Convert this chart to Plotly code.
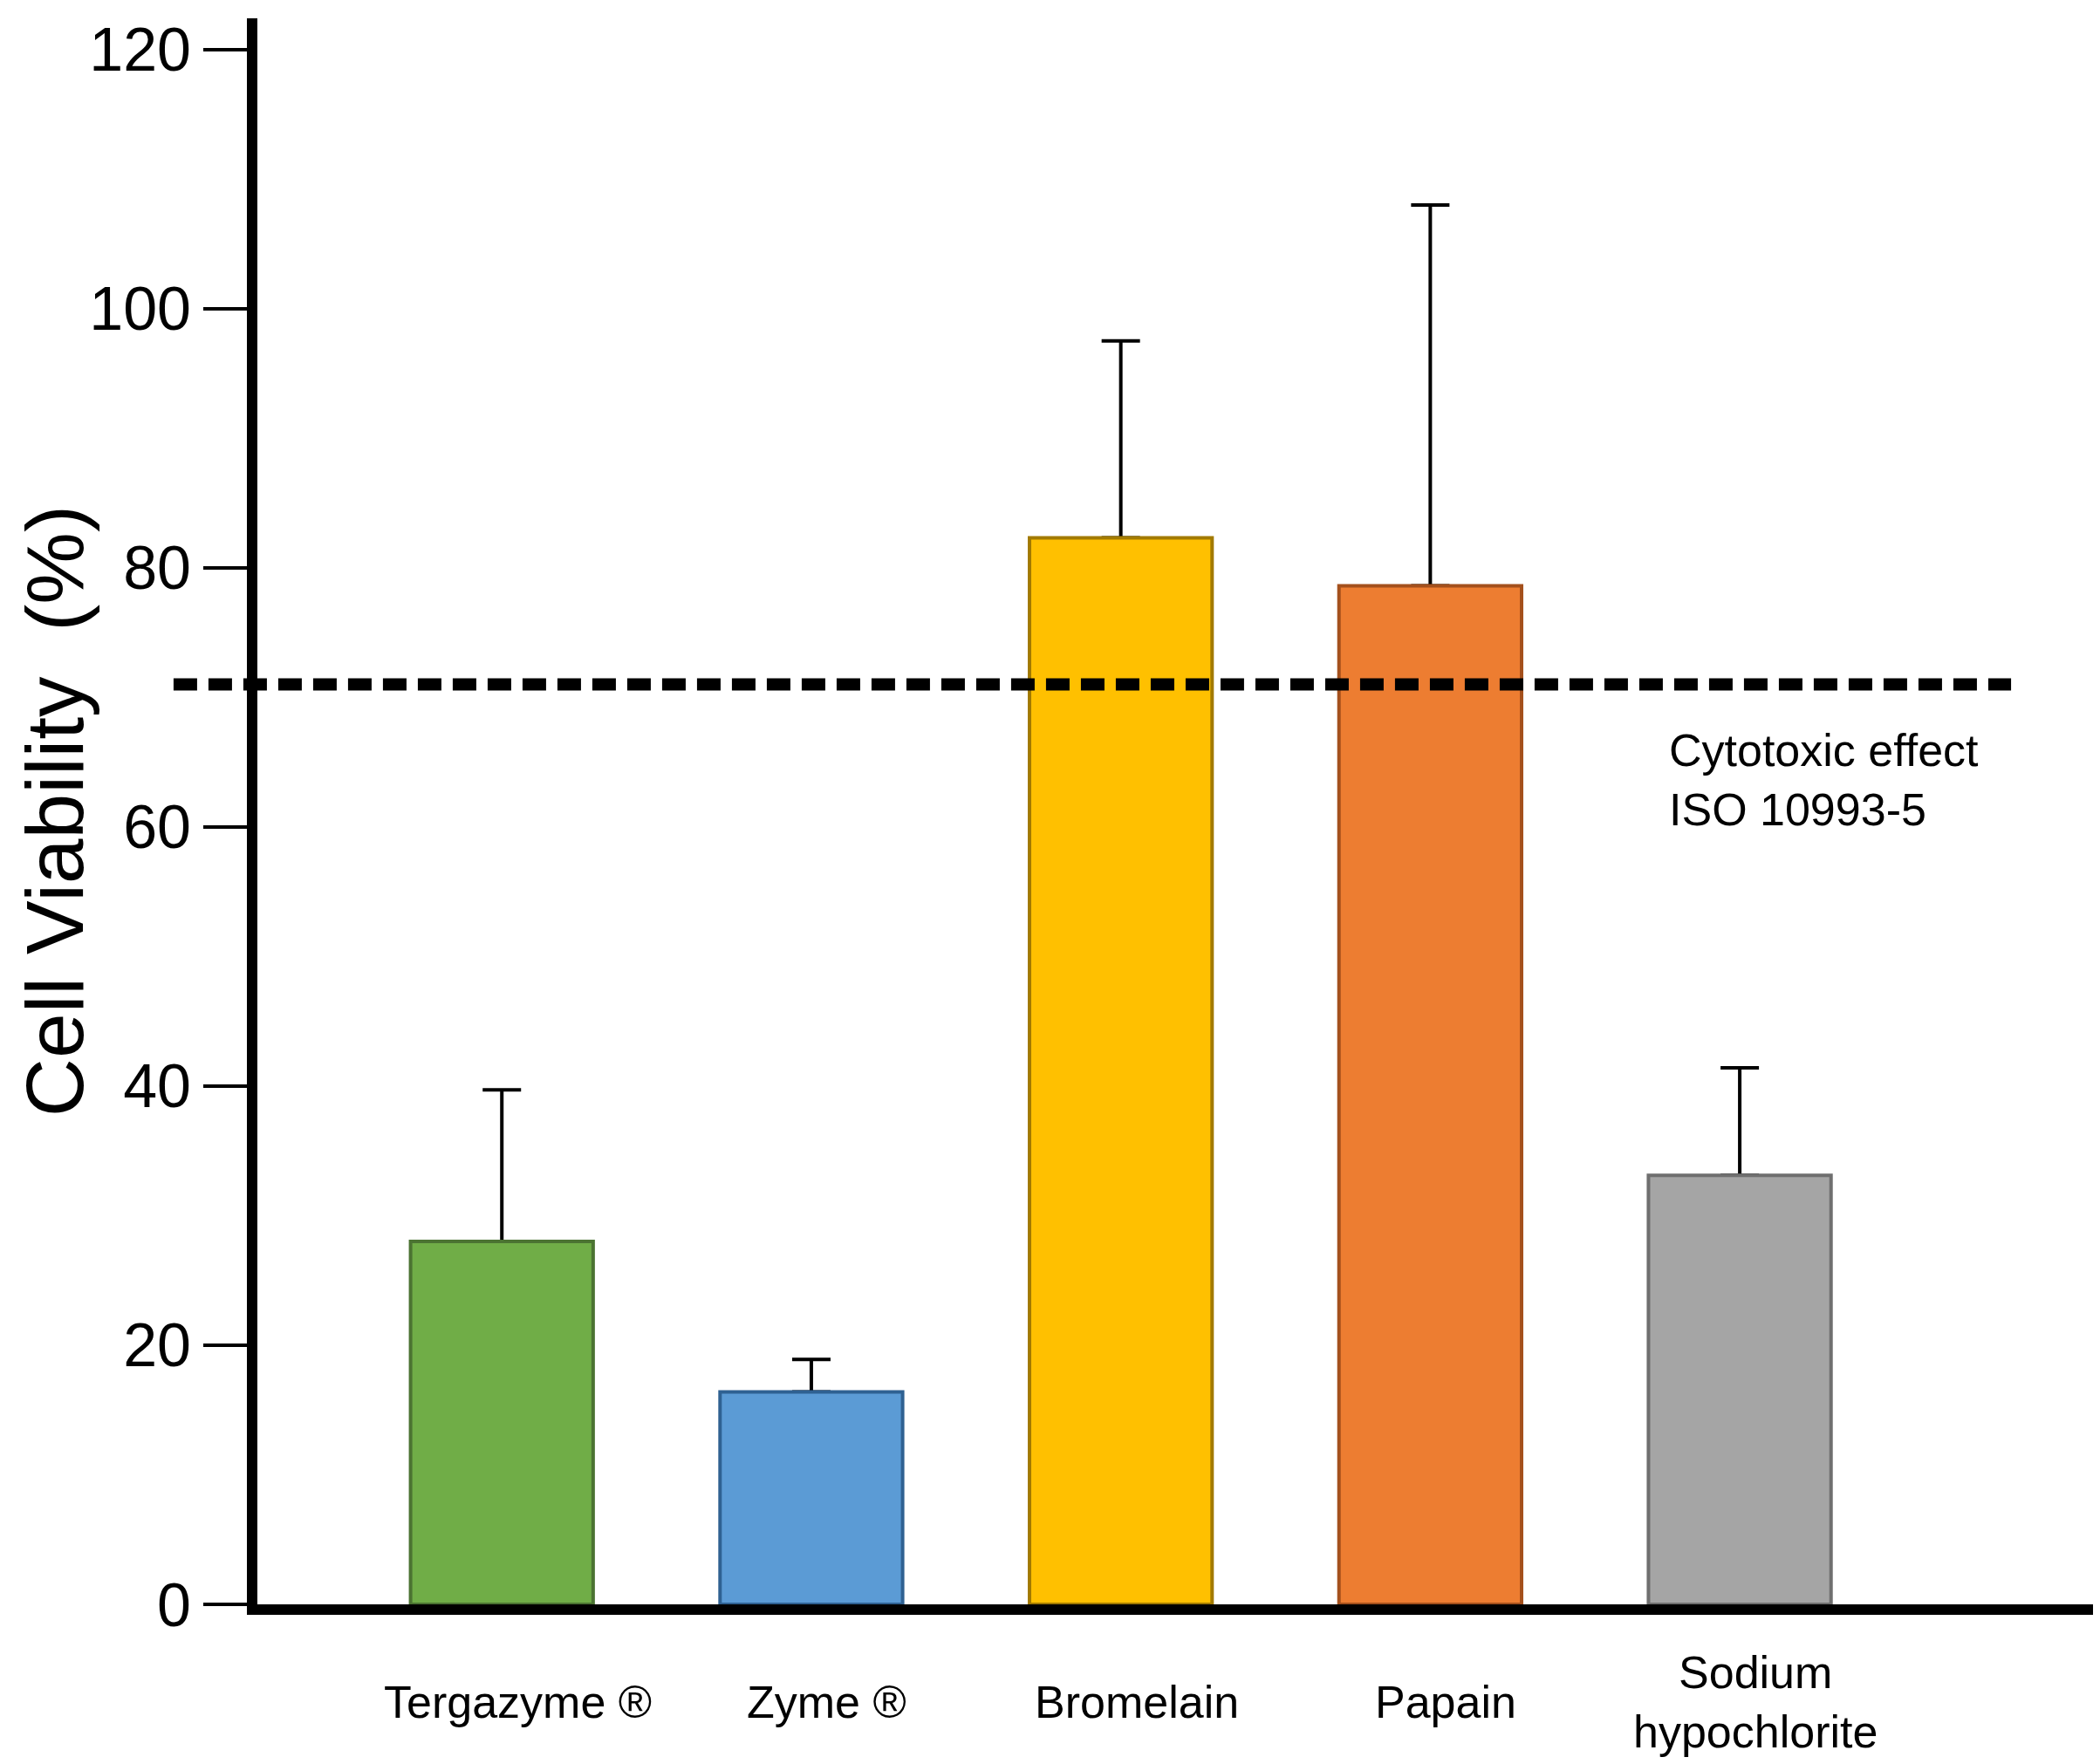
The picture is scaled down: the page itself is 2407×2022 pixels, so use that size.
import plotly.graph_objects as go

# data
categories = ["Tergazyme ®", "Zyme ®", "Bromelain", "Papain", "Sodium<br>hypochlorite"]
viability = [28.0, 16.4, 82.3, 78.6, 33.1]
error_up = [11.7, 2.5, 15.2, 29.4, 8.3]
error_down = [0, 0, 0, 0, 0]
cytotoxic_limit = 71
y_ticks = [0, 20, 40, 60, 80, 100, 120]

fill_colors = ["#70AD47", "#5B9BD5", "#FFC000", "#ED7D31", "#A5A5A5"]
edge_colors = ["#4B7332", "#2F6192", "#A27A00", "#A4501C", "#6F6F6F"]

FONT = "Liberation Sans, Arial, sans-serif"

fig = go.Figure()
# invisible bars carrying the error bars, drawn first so the visible bars
# hide the lower cap that plotly draws at the bar top
fig.add_trace(
    go.Bar(
        x=categories,
        y=viability,
        width=0.59,
        marker=dict(color="rgba(0,0,0,0)", line=dict(width=0)),
        error_y=dict(
            type="data",
            symmetric=False,
            array=error_up,
            arrayminus=error_down,
            color="black",
            thickness=4,
            width=22,
        ),
        showlegend=False,
        hoverinfo="skip",
    )
)
fig.add_trace(
    go.Bar(
        x=categories,
        y=viability,
        width=0.59,
        marker=dict(color=fill_colors, line=dict(color=edge_colors, width=4)),
        showlegend=False,
    )
)

# ISO 10993-5 threshold, runs a bit left of the y axis
fig.add_shape(
    type="line",
    xref="paper",
    yref="y",
    x0=-0.0456,
    x1=0.954,
    y0=cytotoxic_limit,
    y1=cytotoxic_limit,
    line=dict(color="black", width=14, dash="27px,13px"),
    layer="above",
)

fig.add_annotation(
    text="Cytotoxic effect<br>ISO 10993-5",
    xref="paper",
    yref="paper",
    x=0.767,
    y=0.52,
    xanchor="left",
    yanchor="middle",
    align="left",
    showarrow=False,
    font=dict(family=FONT, size=52, color="black"),
)

# category labels under the bars
for cat in categories:
    fig.add_annotation(
        text=cat,
        xref="x",
        yref="paper",
        x=cat,
        y=-0.0615,
        xshift=18,
        xanchor="center",
        yanchor="middle",
        align="center",
        showarrow=False,
        font=dict(family=FONT, size=52, color="black"),
    )

# y axis title
fig.add_annotation(
    text="Cell Viability  (%)",
    xref="paper",
    yref="paper",
    x=-0.110,
    y=0.5,
    xanchor="center",
    yanchor="middle",
    textangle=-90,
    showarrow=False,
    font=dict(family=FONT, size=93, color="black"),
)

fig.update_xaxes(
    range=[-0.79, 5.15],
    showticklabels=False,
    ticks="",
    showgrid=False,
    zeroline=False,
    showline=True,
    linecolor="black",
    linewidth=12,
)
fig.update_yaxes(
    range=[0, 122.4],
    tickvals=y_ticks,
    ticktext=[str(v) for v in y_ticks],
    ticks="outside",
    ticklen=50,
    tickwidth=4,
    tickcolor="black",
    tickfont=dict(family=FONT, size=70, color="black"),
    showgrid=False,
    zeroline=False,
    showline=True,
    linecolor="black",
    linewidth=12,
)

fig.update_layout(
    width=2407,
    height=2022,
    margin=dict(l=287, r=13, t=10, b=191),
    plot_bgcolor="white",
    paper_bgcolor="white",
    font=dict(family=FONT, color="black"),
    barmode="overlay",
)

fig.write_html("out.html")
